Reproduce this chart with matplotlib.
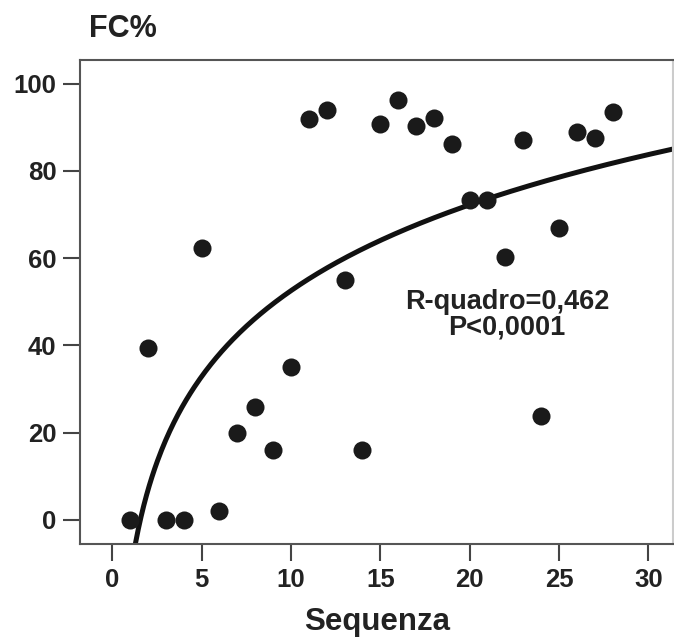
import numpy as np
import matplotlib
matplotlib.use("Agg")
import matplotlib.pyplot as plt

plt.rcParams['font.family'] = ['Liberation Sans', 'DejaVu Sans']
plt.rcParams['font.weight'] = 'bold'

# sequence number vs FC%
sequenza = [1, 2, 3, 4, 5, 6, 7, 8, 9, 10, 11, 12, 13, 14,
            15, 16, 17, 18, 19, 20, 21, 22, 23, 24, 25, 26, 27, 28]
fc_pct = [0, 39.3, 0, 0, 62.4, 2.0, 20.0, 25.9, 16.0, 35.0, 91.9, 94.0, 55.0, 15.9,
          90.7, 96.3, 90.2, 92.2, 86.1, 73.2, 73.2, 60.3, 87.1, 23.8, 66.8, 88.9, 87.6, 93.4]

x_ticks = [0, 5, 10, 15, 20, 25, 30]
y_ticks = [0, 20, 40, 60, 80, 100]
note = "R-quadro=0,462\nP<0,0001"

x = np.array(sequenza, dtype=float)
y = np.array(fc_pct, dtype=float)

# logarithmic fit  y = a + b*ln(x)
b, a = np.polyfit(np.log(x), y, 1)

fig = plt.figure(figsize=(6.74, 6.38), dpi=100)
ax = fig.add_axes([0.119, 0.147, 0.880, 0.759])

xx = np.linspace(1.0, 31.6, 400)
ax.plot(xx, a + b * np.log(xx), color='#111111', lw=3.6, zorder=2)
ax.plot(x, y, 'o', color='#1a1a1a', markersize=13, markeredgewidth=0, zorder=3)

ax.set_xlim(-1.79, 31.4)
ax.set_ylim(-5.6, 105.4)
ax.set_xticks(x_ticks)
ax.set_yticks(y_ticks)
ax.tick_params(length=12, width=1.5, color='#444444', labelsize=18.5,
               labelcolor='#222222', pad=5)
for s in ax.spines.values():
    s.set_color('#555555')
    s.set_linewidth(1.5)
ax.spines['right'].set_color('#cccccc')

ax.set_xlabel("Sequenza", fontsize=22.5, fontweight='bold', color='#222222', labelpad=11)
fig.text(0.183, 0.955, "FC%", fontsize=22, fontweight='bold', color='#222222',
         ha='center', va='center')
ax.text(22.1, 47.0, note, fontsize=19.5, fontweight='bold', color='#222222',
        ha='center', va='center', linespacing=0.95)

fig.savefig("out.png", dpi=100)
